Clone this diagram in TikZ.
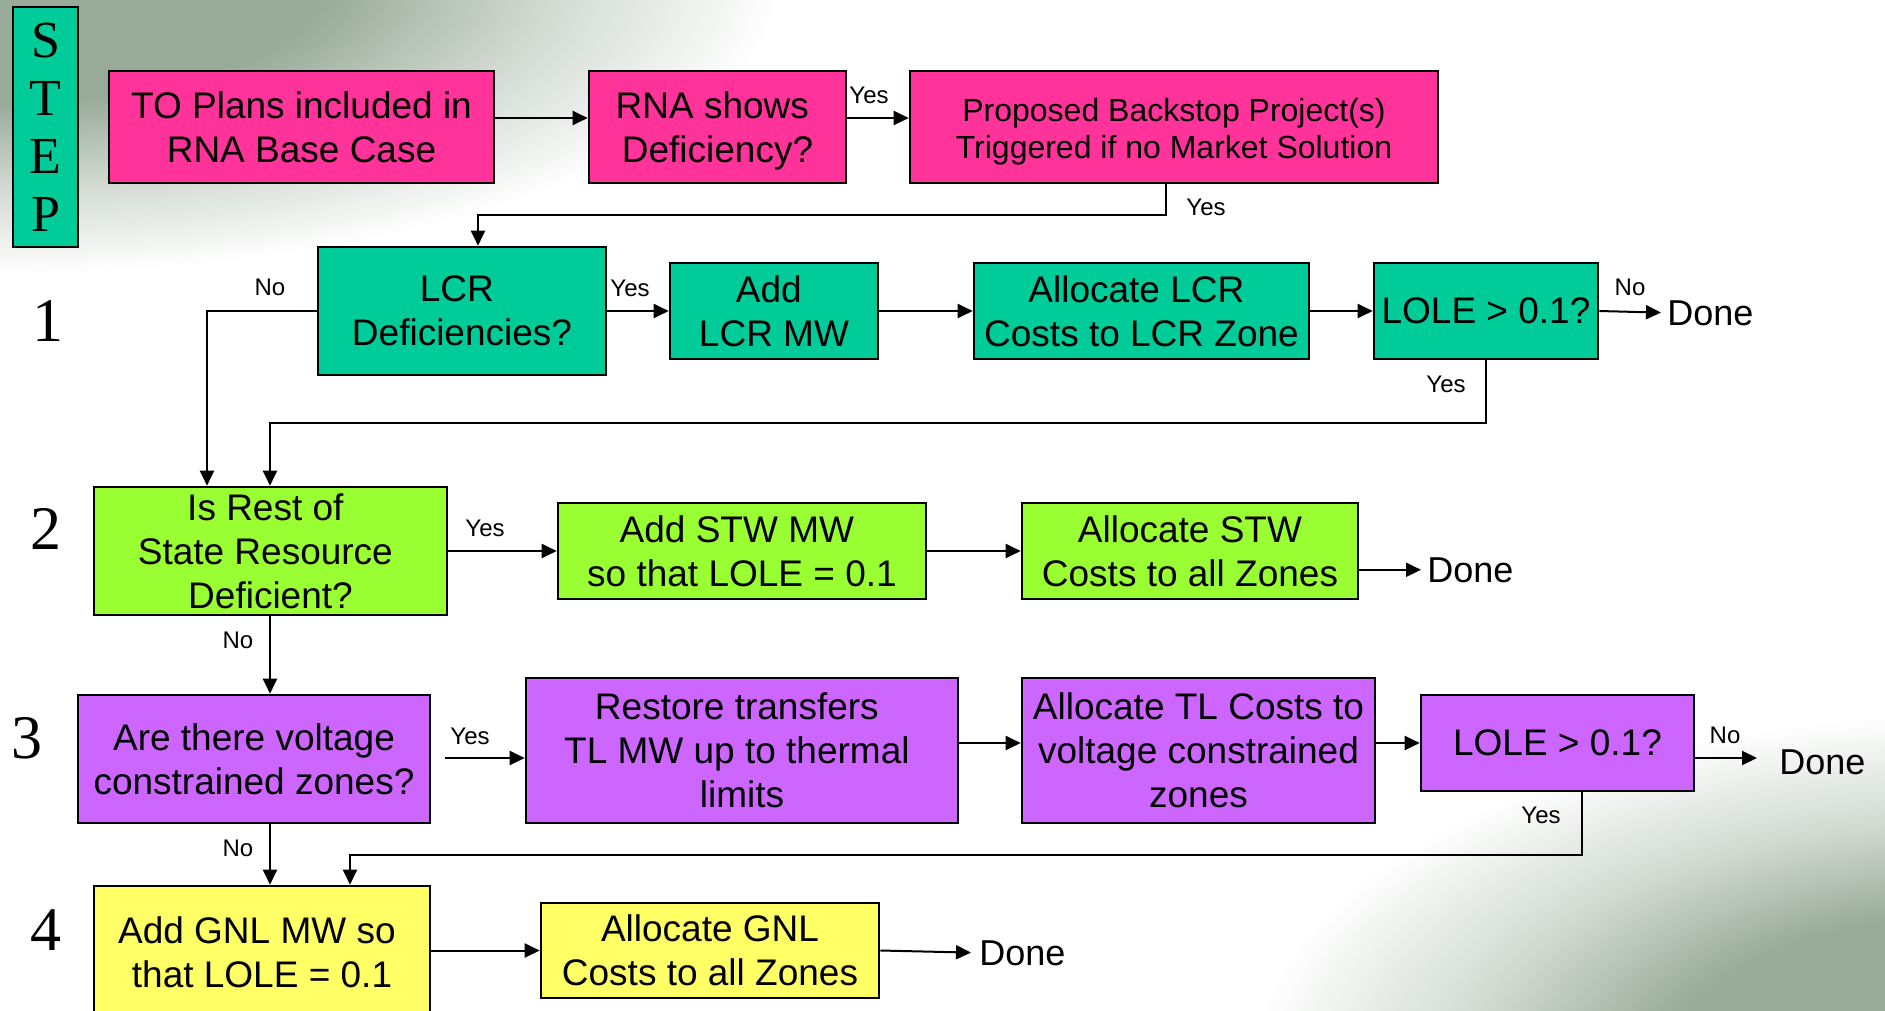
\documentclass[tikz,border=0pt]{standalone}
\usepackage{fontspec}
\setmainfont{Liberation Sans}
\newfontfamily\serifnum{Liberation Serif}
\usetikzlibrary{arrows.meta}
\definecolor{cpink}{HTML}{FF3399}
\definecolor{cteal}{HTML}{00CC99}
\definecolor{cgreen}{HTML}{99FF33}
\definecolor{cpurple}{HTML}{CC66FF}
\definecolor{cyellow}{HTML}{FFFF66}
\definecolor{bgg}{RGB}{152,170,152}
\colorlet{bgm}{bgg!45!white}
\pgfdeclareradialshading{bgfadeA}{\pgfpoint{0bp}{0bp}}{color(0bp)=(bgg); color(9.5bp)=(bgg); color(16bp)=(bgm); color(23bp)=(white); color(50bp)=(white)}
\pgfdeclareradialshading{bgfadeB}{\pgfpoint{0bp}{0bp}}{color(0bp)=(bgg); color(10bp)=(bgg); color(16bp)=(bgm); color(23bp)=(white); color(50bp)=(white)}
\newcommand\tsp{\kern.278em}
\newcommand\nodp[1]{\raisebox{0pt}[\height][0pt]{#1}}
\tikzset{
 box/.style={draw=black, line width=1.3pt, align=center, inner sep=1pt, font=\fontsize{18.5}{22}\selectfont},
 lbl/.style={font=\fontsize{12}{14}\selectfont, inner sep=0pt},
 done/.style={font=\fontsize{18}{20}\selectfont, inner sep=0pt, anchor=base west},
 arr/.style={line width=1pt, -{Triangle[length=7.5pt,width=7pt]}},
 stepnum/.style={font=\serifnum\fontsize{31}{31}\selectfont, inner sep=0pt},
}
\begin{document}
\begin{tikzpicture}[x=0.5pt,y=-0.5pt]
\useasboundingbox (0,0) rectangle (1885,1011);
\clip (0,0) rectangle (1885,1011);
\fill[white] (0,0) rectangle (1885,1011);
\shade[shading=bgfadeA] (0,-20) ellipse [x radius=850, y radius=320];
\shade[shading=bgfadeB] (1985,1071) ellipse [x radius=800, y radius=390];

% STEP
\node[box, fill=cteal, minimum width=32.5pt, minimum height=120pt, font=\serifnum\fontsize{26}{29}\selectfont] (step) at (45.5,127) {S\\T\\E\\P};
\node[stepnum] (n1) at (48,321) {1};
\node[stepnum] (n2) at (45.5,529) {2};
\node[stepnum] (n3) at (27,738) {3};
\node[stepnum] (n4) at (45.5,930) {4};

% row 0
\node[box, fill=cpink, minimum width=192.5pt, minimum height=56pt] (to) at (301.5,127) {TO Plans included in\\RNA Base Case};
\node[box, fill=cpink, minimum width=128.5pt, minimum height=56pt] (rna) at (717.5,127) {RNA shows\tsp\\\nodp{Deficiency?}};
\node[box, fill=cpink, minimum width=264pt, minimum height=56pt, font=\fontsize{16}{18.5}\selectfont] (prop) at (1174,127) {\rule{0pt}{16.5pt}Proposed Backstop Project(s)\\Triggered if no Market Solution};

% row 1
\node[box, fill=cteal, minimum width=144pt, minimum height=64pt] (lcr) at (462,311) {LCR\tsp\\Deficiencies?};
\node[box, fill=cteal, minimum width=104pt, minimum height=48pt] (addlcr) at (774,311) {Add\tsp\\LCR MW};
\node[box, fill=cteal, minimum width=167.5pt, minimum height=48pt] (alloclcr) at (1141.5,311) {Allocate LCR\tsp\\Costs to LCR Zone};
\node[box, fill=cteal, minimum width=112pt, minimum height=48pt] (lole1) at (1486,311) {LOLE > 0.1?};
\node[done] (d1) at (1667,325) {Done};

% row 2
\node[box, fill=cgreen, minimum width=176.5pt, minimum height=64pt] (rest) at (270.5,551) {Is Rest of\tsp\\State Resource\tsp\\Deficient?};
\node[box, fill=cgreen, minimum width=184pt, minimum height=48pt] (addstw) at (742,551) {Add STW MW\tsp\\so that LOLE = 0.1};
\node[box, fill=cgreen, minimum width=168pt, minimum height=48pt] (allocstw) at (1190,551) {Allocate STW\\Costs to all Zones};
\node[done] (d2) at (1427,582) {Done};

% row 3
\node[box, fill=cpurple, minimum width=176pt, minimum height=64pt] (volt) at (254,759) {Are there voltage\\constrained zones?};
\node[box, fill=cpurple, minimum width=216pt, minimum height=72.5pt] (restore) at (742,750.5) {Restore transfers\tsp\\TL MW up to thermal\tsp\\limits};
\node[box, fill=cpurple, minimum width=176.5pt, minimum height=72.5pt] (alloctl) at (1198.5,750.5) {Allocate TL Costs to\\voltage constrained\\zones};
\node[box, fill=cpurple, minimum width=136.5pt, minimum height=48pt] (lole3) at (1557.5,743) {LOLE > 0.1?};
\node[done] (d3) at (1779,774) {Done};

% row 4
\node[box, fill=cyellow, minimum width=168pt, minimum height=66pt] (gnl) at (262,952) {Add GNL MW so\tsp\\that LOLE = 0.1};
\node[box, fill=cyellow, minimum width=169pt, minimum height=47.5pt] (allocgnl) at (710,950.5) {Allocate GNL\\Costs to all Zones};
\node[done] (d4) at (979,965) {Done};

% coordinates
\coordinate (y1) at (0,118);
\coordinate (c1) at (1166,215);
\coordinate (k1) at (478,215);
\coordinate (k2) at (207,311);
\coordinate (k3) at (1486,423);
\coordinate (k4) at (270,423);
\coordinate (k5) at (445,758);
\coordinate (k6) at (1757,758);
\coordinate (k7) at (1582,855);
\coordinate (k8) at (350,855);

% connectors
\draw[arr] (to.east |- y1) -- (rna.west |- y1);
\draw[arr] (rna.east |- y1) -- (prop.west |- y1);
\draw[arr] (prop.south -| c1) -- (c1) -- (k1) -- (lcr.north -| k1);
\draw[arr] (lcr.west) -- (k2) -- (rest.north -| k2);
\draw[arr] (lcr.east) -- (addlcr.west);
\draw[arr] (addlcr.east) -- (alloclcr.west);
\draw[arr] (alloclcr.east) -- (lole1.west);
\draw[arr, shorten >=3pt] (lole1.east) -- (d1.west);
\draw[arr] (lole1.south -| k3) -- (k3) -- (k4) -- (rest.north -| k4);
\draw[arr] (rest.east) -- (addstw.west);
\draw[arr] (addstw.east) -- (allocstw.west);
\draw[arr, shorten >=3pt] (allocstw.east |- d2.west) -- (d2.west);
\draw[arr] (rest.south -| k4) -- (volt.north -| k4);
\draw[arr] (k5) -- (restore.west |- k5);
\draw[arr] (restore.east |- lole3.west) -- (alloctl.west |- lole3.west);
\draw[arr] (alloctl.east |- lole3.west) -- (lole3.west);
\draw[arr] (lole3.east |- k6) -- (k6);
\draw[arr] (lole3.south -| k7) -- (k7) -- (k8) -- (gnl.north -| k8);
\draw[arr] (volt.south -| k4) -- (gnl.north -| k4);
\draw[arr] (gnl.east |- allocgnl.west) -- (allocgnl.west);
\draw[arr, shorten >=4pt] (allocgnl.east) -- (d4.west);

% labels
\node[lbl] at (869,95) {Yes};
\node[lbl] at (1206,207) {Yes};
\node[lbl] at (270,287) {No};
\node[lbl] at (630,288) {Yes};
\node[lbl] at (1630,287) {No};
\node[lbl] at (1446,384) {Yes};
\node[lbl] at (485,528) {Yes};
\node[lbl] at (238,640) {No};
\node[lbl] at (470,736) {Yes};
\node[lbl] at (238,848) {No};
\node[lbl] at (1725,735) {No};
\node[lbl] at (1541,815) {Yes};
\end{tikzpicture}
\end{document}
